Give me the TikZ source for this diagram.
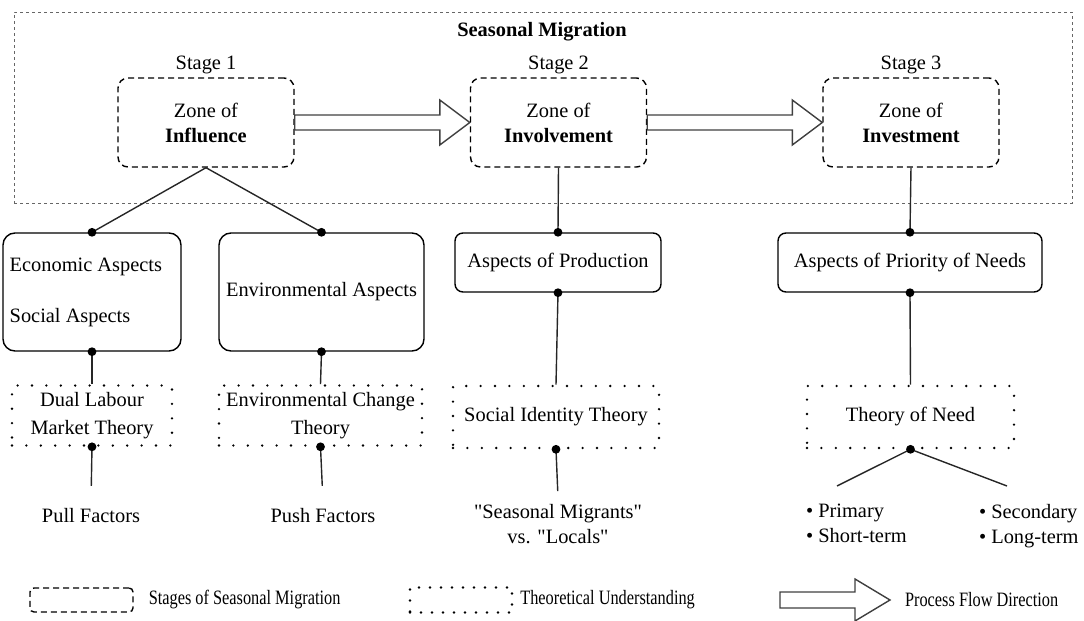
\documentclass[tikz,border=0pt]{standalone}
\usepackage{fontspec}
\setmainfont{Liberation Serif}
\usepackage{graphicx}
\usetikzlibrary{calc, positioning}

\begin{document}
\begin{tikzpicture}[x=0.5pt, y=-0.5pt, font=\fontsize{10.2}{12.5}\selectfont, align=center]
\def\squeeze#1{\scalebox{0.8}[1]{#1}}

\tikzstyle{frame node}=[draw=black!60, dash pattern=on 1.5pt off 1.5pt, line width=0.5pt, minimum width=529pt, minimum height=95.5pt]
\tikzstyle{zone node}=[draw, rounded corners=5pt, dash pattern=on 3pt off 2pt, line width=0.7pt, minimum width=88pt, minimum height=44.5pt]
\tikzstyle{aspect node}=[draw, rounded corners=6pt, line width=0.7pt, minimum height=59pt]
\tikzstyle{short aspect}=[draw, rounded corners=4pt, line width=0.7pt, minimum height=29.5pt]
\tikzstyle{theory node}=[draw, dash pattern=on 0pt off 7.2pt, line cap=round, line width=1.3pt, minimum height=30pt]
\tikzstyle{flow}=[draw=black!75, fill=white, line width=0.7pt]
\tikzstyle{link}=[draw=black!85, line width=0.7pt]

\useasboundingbox (0,0) rectangle (1084,621);

% seasonal migration frame
\node[frame node] (frame) at (543,107.5) {};
\node (title) at (542,32) {\textbf{Seasonal Migration}};

% stages
\node[zone node] (Z1) at (206,122.5) {Zone of\\\textbf{Influence}};
\node[zone node] (Z2) at (558.5,122.5) {Zone of\\\textbf{Involvement}};
\node[zone node] (Z3) at (911,122.5) {Zone of\\\textbf{Investment}};
\foreach \x in {1,2,3}
    \node[above=-2pt of Z\x] (S\x) {Stage \x};

% stage -> stage
\foreach \a/\b in {Z1/Z2, Z2/Z3}
    \draw[flow] ($(\a.east)+(0,-7.5)$) -- ($(\b.west)+(-30,-7.5)$) -- ($(\b.west)+(-30,-22.5)$)
        -- (\b.west) -- ($(\b.west)+(-30,22.5)$) -- ($(\b.west)+(-30,7.5)$) -- ($(\a.east)+(0,7.5)$) -- cycle;

% aspects
\node[aspect node, minimum width=82pt, align=left] (econ) at (92,292) {Economic Aspects\\[13pt]Social Aspects\hspace*{22pt}};
\node[aspect node, minimum width=102.5pt] (envir) at (321.5,292) {Environmental Aspects};
\node[short aspect, minimum width=103pt] (prod) at (558,262.5) {Aspects of Production};
\node[short aspect, minimum width=132pt] (prio) at (910,262.5) {Aspects of Priority of Needs};

% theories
\node[theory node, minimum width=80pt] (dual) at (92,415.5) {Dual Labour\\[1.5pt]Market Theory};
\node[theory node, minimum width=101.5pt] (change) at (320.5,415.5) {Environmental Change\\[1.5pt]Theory};
\node[theory node, minimum width=103pt, minimum height=31pt] (ident) at (556,417) {Social Identity Theory};
\node[theory node, minimum width=103.5pt, minimum height=31pt] (need) at (910.5,417) {Theory of Need};

% outcomes
\node (pull) at (91,516) {Pull Factors};
\node (push) at (323,516) {Push Factors};
\node (migr) at (558,524) {\textquotedbl Seasonal Migrants\textquotedbl\\vs. \textquotedbl Locals\textquotedbl};
\node[align=left, anchor=north west] (prim) at (799,497) {• Primary\\• Short-term};
\node[align=left, anchor=north west] (seco) at (972,497) {• Secondary\\• Long-term};
\coordinate (primtop) at (837,486);
\coordinate (secotop) at (1007,486);

% links
\draw[link] (Z1.south) -- (econ.north);
\draw[link] (Z1.south) -- (envir.north);
\draw[link] (Z2.south) -- (prod.north);
\draw[link] (Z3.south) -- (prio.north);
\draw[link] (econ.south) -- (dual.north);
\draw[link] (envir.south) -- (change.north);
\draw[link] (prod.south) -- (ident.north);
\draw[link] (prio.south) -- (need.north);
\draw[link, shorten >=8pt] (dual.south) -- (pull.north);
\draw[link, shorten >=8pt] (change.south) -- (push.north);
\draw[link, shorten >=3pt] (ident.south) -- (migr.north);
\draw[link] (need.south) -- (primtop);
\draw[link] (need.south) -- (secotop);

\foreach \n in {econ.north, envir.north, prod.north, prio.north, econ.south, envir.south, prod.south, prio.south, dual.south, change.south, ident.south, need.south}
    \fill (\n) circle (2.2pt);

% legend
\node[zone node, minimum width=51.5pt, minimum height=12pt, rounded corners=2pt] (legzone) at (81.5,600) {};
\node[right=4pt of legzone] (legzonetext) {\squeeze{Stages of Seasonal Migration}};
\node[theory node, minimum width=51pt, minimum height=12.5pt, dash pattern=on 0pt off 5.5pt] (legtheory) at (461,600) {};
\node[right=0pt of legtheory] (legtheorytext) {\squeeze{Theoretical Understanding}};
\coordinate (legflow) at (780,600);
\draw[flow] ($(legflow)+(0,-8)$) -- ++(75,0) -- ++(0,-13) -- ($(legflow)+(110,0)$) -- ($(legflow)+(75,21)$) -- ++(0,-13) -- ($(legflow)+(0,8)$) -- cycle;
\node[anchor=west] (legflowtext) at (898,600) {\squeeze{Process Flow Direction}};

\end{tikzpicture}
\end{document}
